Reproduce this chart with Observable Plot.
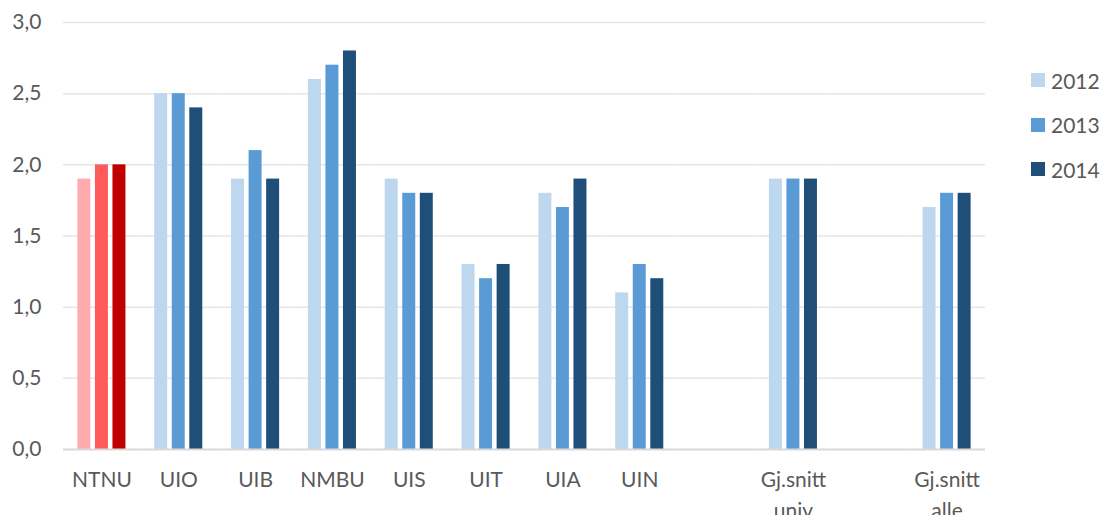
<!DOCTYPE html>
<html><head><meta charset="utf-8">
<script src="https://cdn.jsdelivr.net/npm/d3@7"></script>
<script src="https://cdn.jsdelivr.net/npm/@observablehq/plot@0.6"></script>
<style>
body{margin:0;background:#fff;font-family:Lato,sans-serif;}
#wrap{position:relative;width:1100px;height:515px;overflow:hidden;}
#legend{position:absolute;left:1031px;top:58px;}
.item{display:flex;align-items:center;height:44.5px;font-size:21px;color:#595959;font-family:Lato,sans-serif;}
.sw{width:14px;height:14px;margin-right:6px;}
</style></head><body><div id="wrap"><div id="chart"></div><div id="legend"></div></div>
<script>
const categories = ["NTNU","UIO","UIB","NMBU","UIS","UIT","UIA","UIN","gap1","GjUniv","gap2","GjAlle"];
const categoryLabels = ["NTNU","UIO","UIB","NMBU","UIS","UIT","UIA","UIN","","Gj.snitt\nuniv","","Gj.snitt\nalle"];
const years = ["2012","2013","2014"];
const values2012 = [1.9,2.5,1.9,2.6,1.9,1.3,1.8,1.1,null,1.9,null,1.7];
const values2013 = [2.0,2.5,2.1,2.7,1.8,1.2,1.7,1.3,null,1.9,null,1.8];
const values2014 = [2.0,2.4,1.9,2.8,1.8,1.3,1.9,1.2,null,1.9,null,1.8];
const yTicks = [0,0.5,1.0,1.5,2.0,2.5,3.0];

const blueColors = {"2012":"#BDD7EE","2013":"#5B9BD5","2014":"#1F4E79"};
const redColors = {"2012":"#FFABAE","2013":"#FF5B5B","2014":"#C00000"};

const series = [values2012, values2013, values2014];
const rows = [];
categories.forEach((c, i) => {
  years.forEach((y, j) => {
    rows.push({cat: c, year: y, value: series[j][i] == null ? NaN : series[j][i]});
  });
});
const labelOf = k => categoryLabels[categories.indexOf(k)];

const chart = Plot.plot({
  width: 1100,
  height: 515,
  marginLeft: 63,
  marginRight: 115,
  marginTop: 22,
  marginBottom: 66,
  style: {fontFamily: "Lato, sans-serif", fontSize: "21px", color: "#595959", background: "#fff"},
  fx: {domain: categories, padding: 0, round: false},
  x: {domain: years, paddingInner: 0.26, paddingOuter: 0.82, round: false, axis: null},
  y: {domain: [0, 3], axis: null},
  color: {type: "identity"},
  marks: [
    Plot.gridY(yTicks.filter(t => t > 0), {stroke: "#e6e6e6", strokeWidth: 1.5, strokeOpacity: 1}),
    Plot.barY(rows, {fx: "cat", x: "year", y: "value",
      fill: d => (d.cat === "NTNU" ? redColors : blueColors)[d.year]}),
    Plot.ruleY([0], {stroke: "#d9d9d9", strokeWidth: 2}),
    Plot.axisY({ticks: yTicks, tickSize: 0, tickPadding: 22, fontSize: 21, fill: "#595959", label: null,
      tickFormat: d => d.toFixed(1).replace(".", ",")}),
    Plot.axisFx({anchor: "bottom", tickSize: 0, tickPadding: 15, fontSize: 21, fill: "#595959", lineHeight: 1.5,
      tickFormat: labelOf, label: null})
  ]
});
document.getElementById("chart").appendChild(chart);

const legend = document.getElementById("legend");
years.forEach(y => {
  const it = document.createElement("div");
  it.className = "item";
  const sw = document.createElement("span");
  sw.className = "sw";
  sw.style.background = blueColors[y];
  const t = document.createElement("span");
  t.textContent = y;
  it.appendChild(sw); it.appendChild(t);
  legend.appendChild(it);
});
</script></body></html>
